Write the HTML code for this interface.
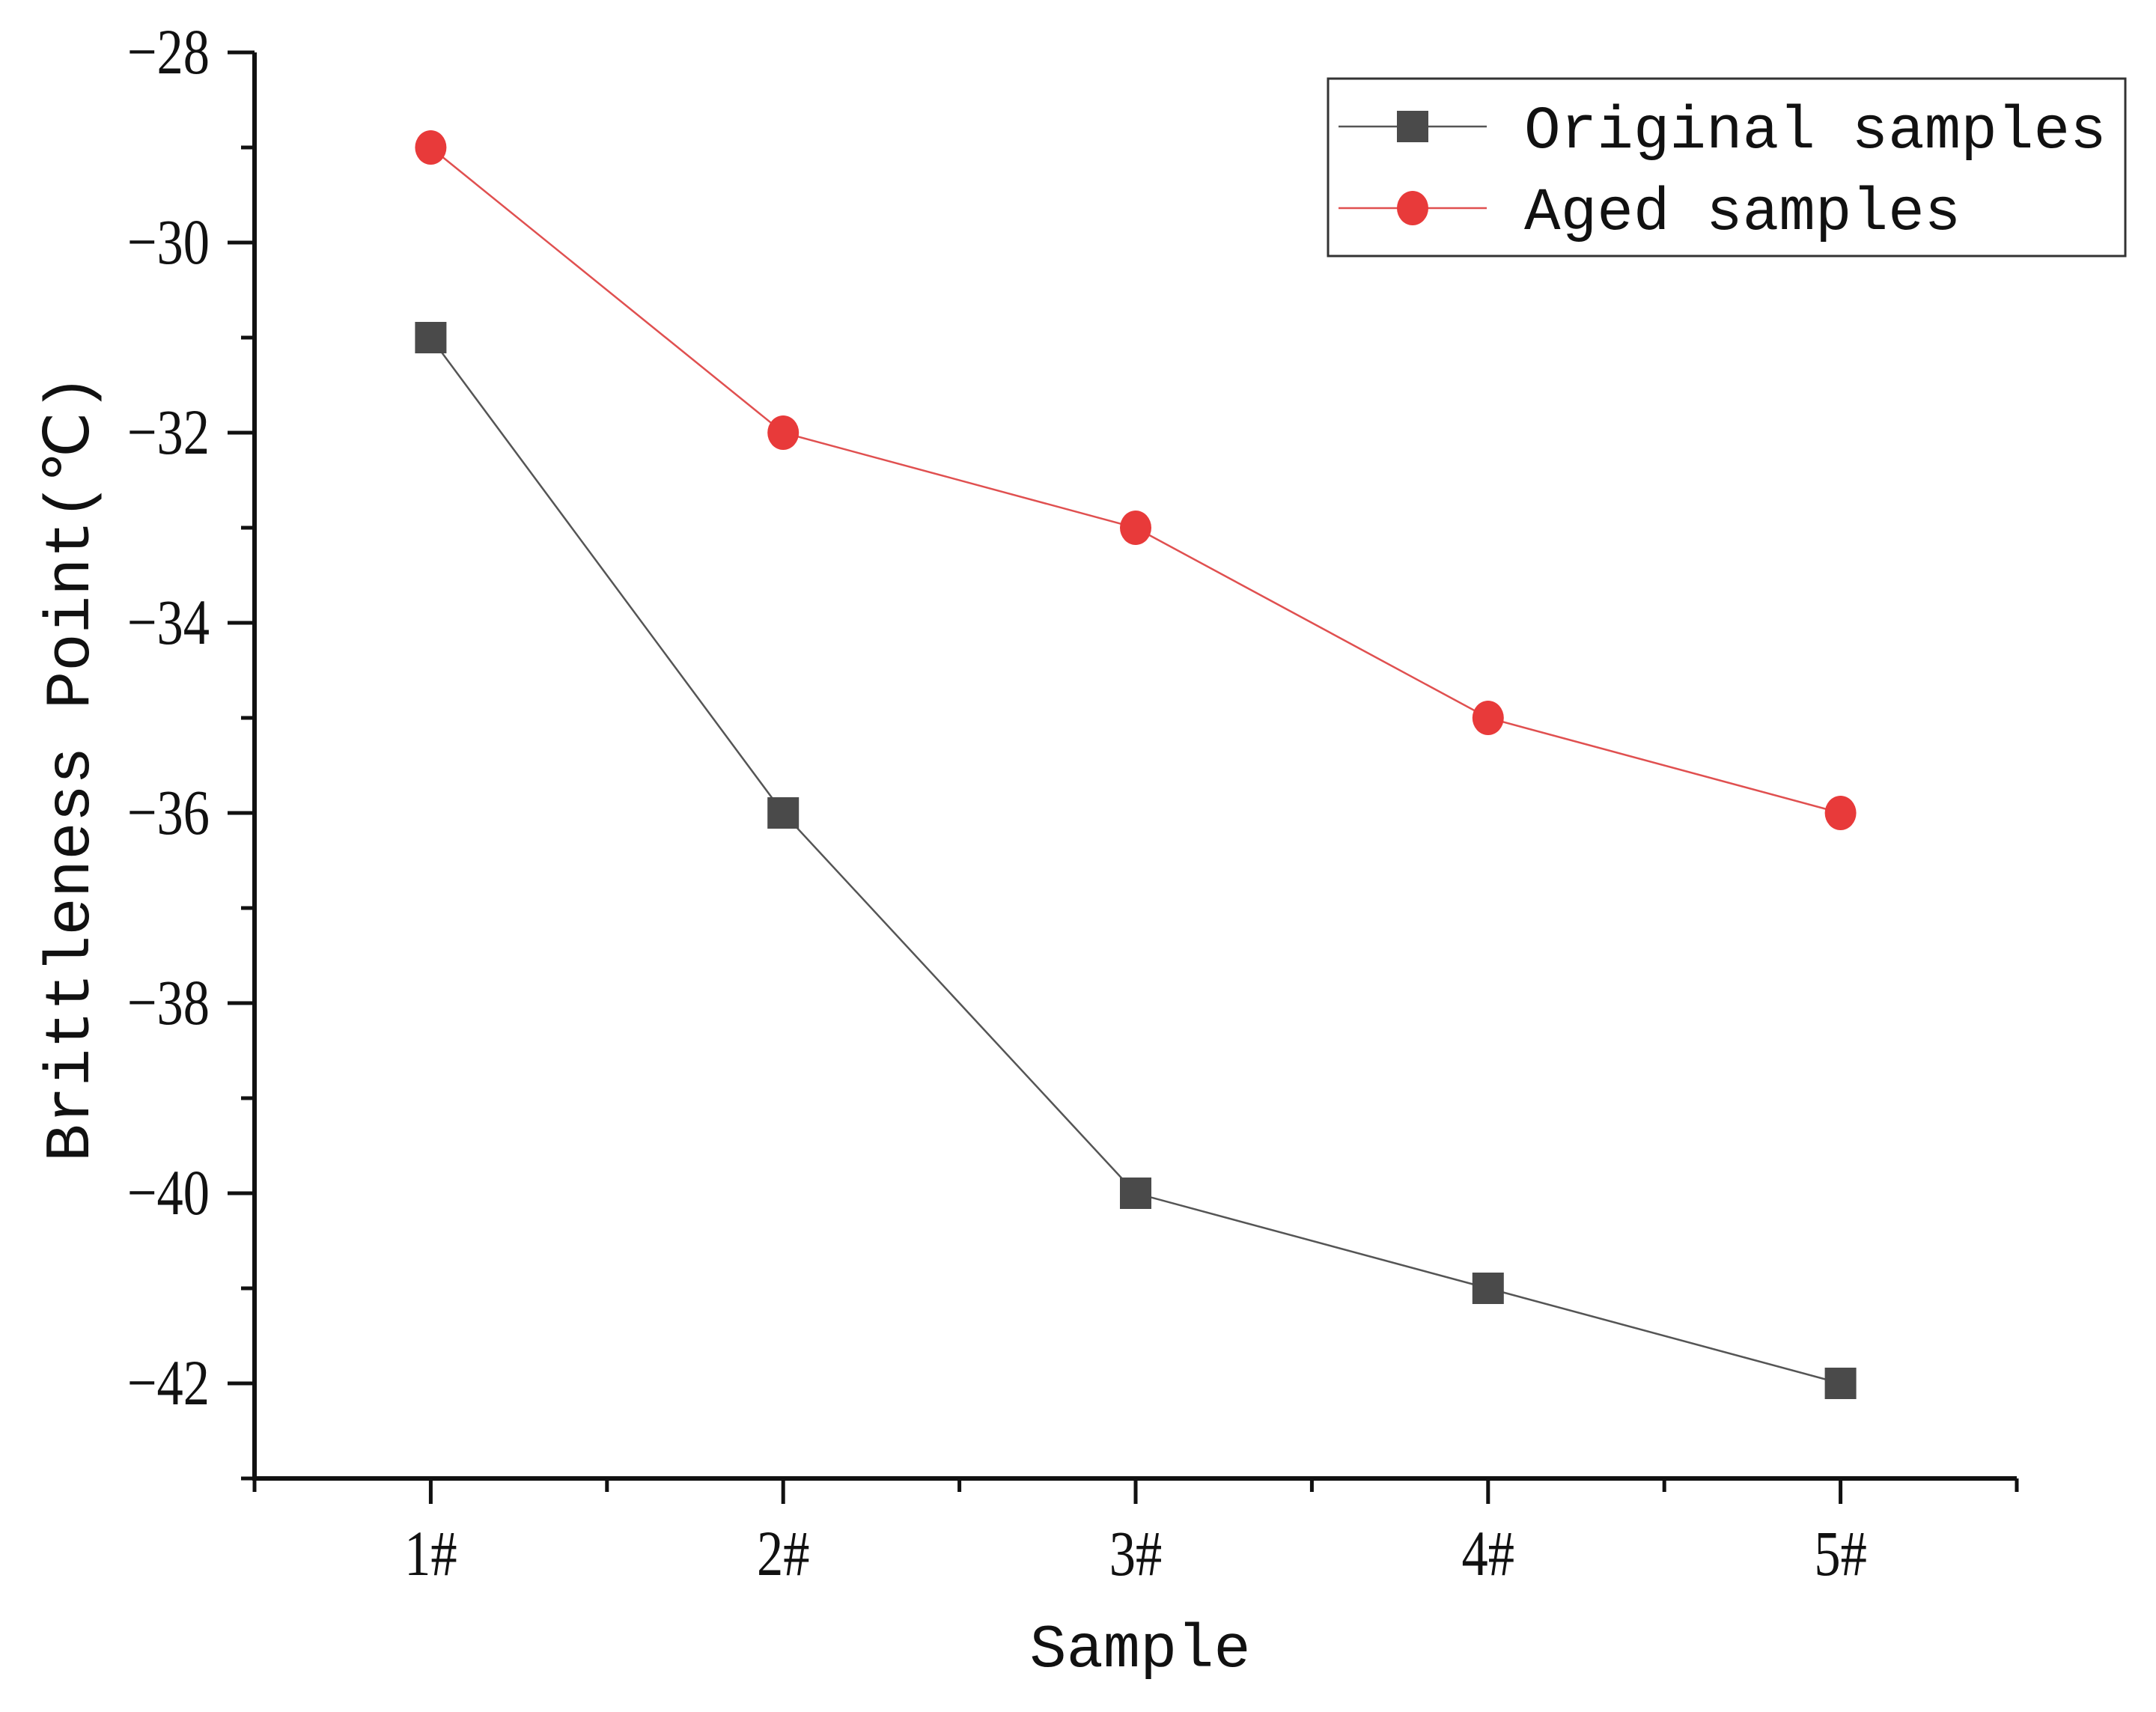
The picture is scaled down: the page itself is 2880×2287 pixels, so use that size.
<!DOCTYPE html>
<html><head><meta charset="utf-8">
<style>
html,body{margin:0;padding:0;background:#fff;}
svg{display:block;}
.tick{font-family:"Liberation Serif",serif;font-size:86px;fill:#111;}
.mono{font-family:"Liberation Mono",monospace;fill:#111;}
</style></head>
<body>
<svg id="chart" width="2880" height="2287" viewBox="0 0 2880 2287" xmlns="http://www.w3.org/2000/svg">
<g id="axes"></g>
<g id="series"></g>
<g id="legend">
  <rect x="1774" y="105" width="1065" height="237" fill="#fff" stroke="#333" stroke-width="3"/>
  <g>
    <line x1="1788" y1="169" x2="1986" y2="169" stroke="#555" stroke-width="2.5"/>
    <rect x="1866" y="148" width="42" height="42" fill="#4a4a4a"/>
    <text class="mono" x="2036" y="197" font-size="81">Original samples</text>
  </g>
  <g>
    <line x1="1788" y1="278" x2="1986" y2="278" stroke="#e05050" stroke-width="2.5"/>
    <ellipse cx="1887" cy="278" rx="21" ry="23" fill="#e83a3a"/>
    <text class="mono" x="2036" y="306" font-size="81">Aged samples</text>
  </g>
</g>
<text class="mono" font-size="84" text-anchor="middle" transform="translate(118,1026) rotate(-90)">Brittleness Point(℃)</text>
<text class="mono" font-size="82" text-anchor="middle" x="1523" y="2226">Sample</text>
</svg>
<script>
const categories = ["1#","2#","3#","4#","5#"];
const originalValues = [-31, -36, -40, -41, -42];
const agedValues = [-29, -32, -33, -35, -36];
const yTicks = [-28, -30, -32, -34, -36, -38, -40, -42];
const yTickLabels = ["\u221228","\u221230","\u221232","\u221234","\u221236","\u221238","\u221240","\u221242"];

const NS = "http://www.w3.org/2000/svg";
const X0 = 340, X1 = 2694, Y0 = 70, Y1 = 1975;
const xMin = 0.5, xMax = 5.5, yMin = -43, yMax = -28;
function xs(i){ return X0 + (i + 1 - xMin) / (xMax - xMin) * (X1 - X0); }
function ys(v){ return Y1 - (v - yMin) / (yMax - yMin) * (Y1 - Y0); }
function mk(tag, attrs, parent){ const e = document.createElementNS(NS, tag); for (const k in attrs) e.setAttribute(k, attrs[k]); parent.appendChild(e); return e; }

const axes = document.getElementById('axes');
const yAxis = mk('line', {x1:X0, y1:Y0, x2:X0, y2:Y1+3, stroke:'#111', 'stroke-width':6}, axes);


const xAxis = mk('line', {x1:X0-3, y1:Y1, x2:X1, y2:Y1, stroke:'#111', 'stroke-width':6}, axes);



for (let v = yMin; v <= yMax; v++) {
  const major = yTicks.indexOf(v) >= 0;
  const t = mk('line', {x1:X0 - (major ? 36 : 18), y1:ys(v), x2:X0, y2:ys(v), stroke:'#111', 'stroke-width':5}, axes);
  
  
}
yTicks.forEach((v, i) => {
  const t = mk('text', {'text-anchor':'end', class:'tick', transform:'translate(280,' + (ys(v) + 28) + ') scale(0.82,1)'}, axes);
  t.textContent = yTickLabels[i];
  
  
});
for (let k = 0; k <= 10; k++) {
  const xv = xMin + k * 0.5;
  const x = X0 + (xv - xMin) / (xMax - xMin) * (X1 - X0);
  const major = (k % 2 === 1);
  const t = mk('line', {x1:x, y1:Y1, x2:x, y2:Y1 + (major ? 34 : 18), stroke:'#111', 'stroke-width':5}, axes);
  
  
}
categories.forEach((c, i) => {
  const t = mk('text', {'text-anchor':'middle', class:'tick', transform:'translate(' + xs(i) + ',2104) scale(0.82,1)'}, axes);
  t.textContent = c;
  
  
});

const series = document.getElementById('series');
const pts = (arr) => arr.map((v, i) => xs(i) + ',' + ys(v)).join(' ');
const l1 = mk('polyline', {points:pts(originalValues), fill:'none', stroke:'#555', 'stroke-width':2.5}, series);


const l2 = mk('polyline', {points:pts(agedValues), fill:'none', stroke:'#e05050', 'stroke-width':2.5}, series);


originalValues.forEach((v, i) => {
  const r = mk('rect', {x:xs(i) - 21, y:ys(v) - 21, width:42, height:42, fill:'#4a4a4a'}, series);
  
  
});
agedValues.forEach((v, i) => {
  const c = mk('ellipse', {cx:xs(i), cy:ys(v), rx:21, ry:23, fill:'#e83a3a'}, series);
  
  
});
</script>
</body></html>
